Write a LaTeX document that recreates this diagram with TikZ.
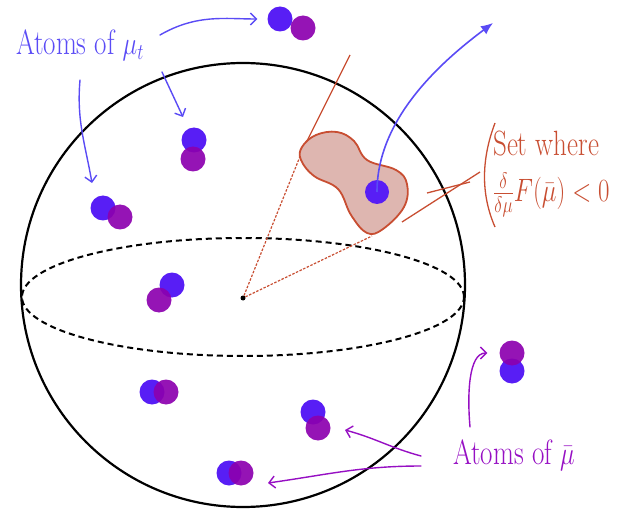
\documentclass[tikz,border=0pt]{standalone}
\usepackage{amsmath, amssymb}
\usepackage{graphicx}
\usepackage{tikz}
\usetikzlibrary{arrows.meta}
\definecolor{atomblue}{RGB}{88, 30, 245}
\definecolor{atompurple}{RGB}{140, 0, 175}
\definecolor{penblue}{RGB}{90, 75, 245}
\definecolor{penpurple}{RGB}{150, 15, 195}
\definecolor{setred}{RGB}{200, 78, 50}
\definecolor{setfill}{RGB}{222, 182, 176}
\newcommand{\tallhand}[1]{\scalebox{1}[1.3]{#1}}

\tikzset{
	atommu/.style={circle, fill=atomblue, inner sep=0pt, minimum size=25pt},
	atombar/.style={circle, fill=atompurple, fill opacity=0.92, inner sep=0pt, minimum size=25pt},
	handarrow/.style={->, >={Straight Barb[length=6pt, width=12pt]}, line width=1.4pt, line cap=round},
	handtext/.style={font=\fontsize{27}{30}\selectfont, inner sep=0pt},
}

\begin{document}
\begin{tikzpicture}[x=1pt, y=-1pt]
	\useasboundingbox (0,0) rectangle (629,513);
	% sphere and equator
	\draw[line width=2.2pt] (243,285) circle[radius=222pt];
	\draw[line width=2pt, dash pattern=on 6pt off 4pt] (243,297) ellipse[x radius=221pt, y radius=59pt];
	\node[circle, fill=black, inner sep=0pt, minimum size=5pt] (o) at (243,298) {};

	% cone onto the set
	\coordinate (tipA) at (303,149);
	\coordinate (tipB) at (372,236);
	\draw[setred, line width=1.3pt] (350,55) -- (tipA);
	\draw[setred, line width=1.2pt, dash pattern=on 2.5pt off 1.5pt] (o) -- (tipA);
	\draw[setred, line width=1.2pt, dash pattern=on 2.5pt off 1.5pt] (o) -- (tipB);
	\draw[setred, line width=1.8pt, fill=setfill] plot[smooth cycle, tension=0.65] coordinates {
		(302,147) (316,135) (337,132) (354,141) (367,160) (396,170) (407,184)
		(404,207) (383,229) (367,233) (351,215) (338,189) (314,176) (301,160)};
	\node[atommu, minimum size=24pt] (inset) at (377,192) {};
	\coordinate (away) at (493,23);
	\draw[penblue, line width=1.6pt, -{Latex[length=12pt, width=10pt]}] (inset.center) .. controls (377,125) and (430,70) .. (away);

	% set label
	\draw[setred, line width=1.3pt] (402,222) -- (480,172);
	\draw[setred, line width=1.3pt] (427,193) -- (470,182);
	\draw[setred, line width=1.3pt] (495,123) .. controls (481,160) and (481,195) .. (495,227);
	\node[handtext, setred, anchor=west] (setlbl) at (493,144) {\tallhand{Set where}};
	\node[handtext, setred, anchor=west] (setcond) at (493,195) {\tallhand{$\frac{\delta}{\delta\mu}F(\bar{\mu})<0$}};

	% atoms, blue for mu_t and purple for bar mu
	\node[atommu] (mu1) at (280,19) {};
	\node[atommu] (mu2) at (194,140) {};
	\node[atommu] (mu3) at (103,208) {};
	\node[atommu] (mu4) at (172,285) {};
	\node[atommu] (mu5) at (152,392) {};
	\node[atommu] (mu6) at (313,412) {};
	\node[atommu] (mu7) at (229,473) {};
	\node[atommu] (mu8) at (512,371) {};
	\node[atombar] (bar1) at (303,28) {};
	\node[atombar] (bar2) at (193,159) {};
	\node[atombar] (bar3) at (120,217) {};
	\node[atombar] (bar4) at (159,300) {};
	\node[atombar] (bar5) at (166,392) {};
	\node[atombar] (bar6) at (318,428) {};
	\node[atombar] (bar7) at (241,473) {};
	\node[atombar] (bar8) at (512,353) {};

	% labels and their arrows
	\node[handtext, penblue] (lblmu) at (80,45) {\tallhand{Atoms of $\mu_t$}};
	\coordinate (mutail1) at (160,35);
	\coordinate (mutail2) at (162,72);
	\coordinate (mutail3) at (80,80);
	\draw[handarrow, penblue, shorten >=10pt] (mutail1) to[out=30, in=180] (mu1);
	\draw[handarrow, penblue] (mutail2) to[out=-65, in=115] (183,117);
	\draw[handarrow, penblue] (mutail3) to[out=-95, in=100] (92,183);

	\node[handtext, penpurple] (lblbar) at (514,455) {\tallhand{Atoms of $\bar{\mu}$}};
	\coordinate (bartail1) at (470,427);
	\coordinate (bartail2) at (421,456);
	\coordinate (bartail3) at (421,466);
	\draw[handarrow, penpurple, shorten >=12pt] (bartail1) to[out=95, in=180] (bar8);
	\draw[handarrow, penpurple] (bartail2) to[out=165, in=-15] (345,430);
	\draw[handarrow, penpurple] (bartail3) to[out=180, in=8] (268,483);
\end{tikzpicture}
\end{document}
